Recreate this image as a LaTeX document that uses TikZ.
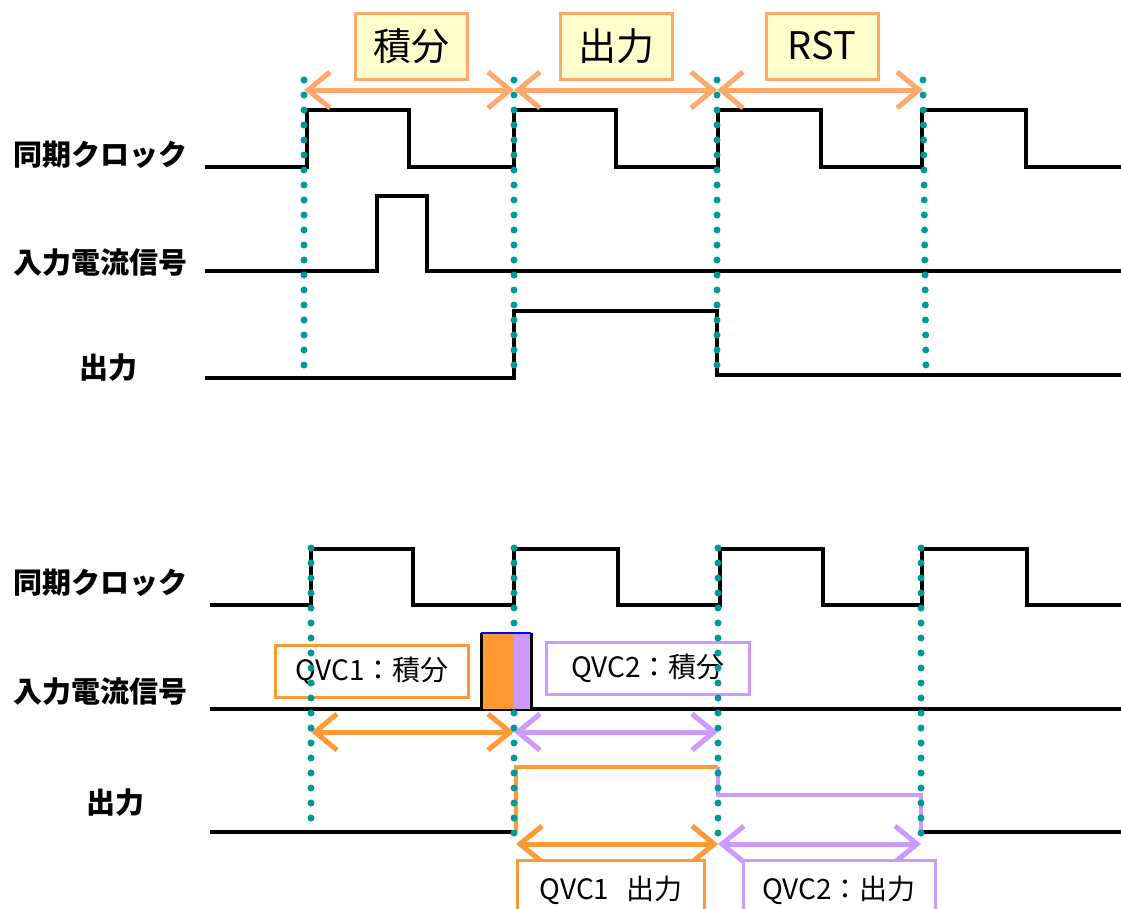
\documentclass[tikz,border=0pt]{standalone}
\usepackage{fontspec}
\setmainfont{Noto Sans CJK JP}
\usetikzlibrary{arrows.meta}
\definecolor{dotc}{HTML}{009999}
\definecolor{lorange}{HTML}{FFA86B}
\definecolor{orng}{HTML}{FF9933}
\definecolor{purp}{HTML}{CC99FF}
\definecolor{lyellow}{HTML}{FFFFCC}
\tikzset{
  wave/.style={line width=3.8pt, line join=miter},
  dotline/.style={dotc, line width=7pt, line cap=round, dash pattern=on 0pt off 15pt},
  barb/.tip={Straight Barb[length=22pt,width=36pt,line width=5pt]},
  dblarr/.style={line width=5pt, barb-barb},
  topbox/.style={draw=lorange, fill=lyellow, line width=3pt, minimum width=112pt, minimum height=66pt, inner sep=0pt, font=\fontsize{38}{40}\selectfont},
  qbox/.style={fill=white, line width=3pt, minimum height=52pt, inner sep=0pt, font=\fontsize{28}{30}\selectfont},
  sig/.style={font=\bfseries\fontsize{29}{31}\selectfont, inner sep=0pt}
}
\begin{document}
\begin{tikzpicture}[x=1pt,y=-1pt]
\useasboundingbox (0,0) rectangle (1121,908);
\clip (0,0) rectangle (1121,908);

% ---------- top part ----------
\node[sig] (l1) at (100,155) {同期クロック};
\node[sig] (l2) at (100,263) {入力電流信号};
\node[sig] (l3) at (108,368) {出力};

\draw[wave] (205,167) -- (307,167) -- (307,110) -- (409,110) -- (409,167) -- (514,167) -- (514,110) -- (616,110) -- (616,167) -- (718,167) -- (718,110) -- (821,110) -- (821,167) -- (922,167) -- (922,110) -- (1026,110) -- (1026,167) -- (1121,167);
\draw[wave] (205,271) -- (377,271) -- (377,196) -- (427,196) -- (427,271) -- (1121,271);
\draw[wave] (205,378) -- (514,378) -- (514,311) -- (717,311) -- (717,375) -- (1121,375);

\coordinate (t1) at (304,90);
\coordinate (t2) at (514,90);
\coordinate (t3) at (717,90);
\coordinate (t4) at (923,90);
\draw[dblarr, lorange] (t1) -- (t2);
\draw[dblarr, lorange] (t2) -- (t3);
\draw[dblarr, lorange] (t3) -- (t4);

\node[topbox] (b1) at (411,46) {積分};
\node[topbox] (b2) at (616,46) {出力};
\node[topbox] (b3) at (822,46) {RST};

\coordinate (d1b) at (304,375);
\coordinate (d2b) at (514,375);
\coordinate (d3b) at (717,375);
\coordinate (d4b) at (926,372);
\draw[dotline] (304,80) -- (d1b);
\draw[dotline] (514,80) -- (d2b);
\draw[dotline] (717,80) -- (d3b);
\draw[dotline] (923,80) -- (d4b);

% ---------- bottom part ----------
\node[sig] (m1) at (100,583) {同期クロック};
\node[sig] (m2) at (100,692) {入力電流信号};
\node[sig] (m3) at (115,803) {出力};

\draw[wave] (210,605) -- (311,605) -- (311,549) -- (413,549) -- (413,605) -- (514,605) -- (514,549) -- (618,549) -- (618,605) -- (720,605) -- (720,549) -- (823,549) -- (823,605) -- (922,605) -- (922,549) -- (1027,549) -- (1027,605) -- (1121,605);
\draw[wave] (210,709) -- (1121,709);
\draw[wave] (210,832) -- (516,832);
\draw[wave] (921,832) -- (1121,832);
\draw[orng, line width=3.8pt] (516,832) -- (516,767) -- (718,767);
\draw[purp, line width=3.8pt] (718,767) -- (718,795) -- (921,795) -- (921,832);

\node[qbox, draw=orng, minimum width=193pt] (q1) at (372,671) {QVC1：積分};
\node[qbox, draw=purp, minimum width=203pt] (q2) at (648,668) {QVC2：積分};

\coordinate (u1) at (311,732);
\coordinate (u2) at (514,732);
\coordinate (u3) at (718,732);
\draw[dblarr, orng] (u1) -- (u2);
\draw[dblarr, purp] (u2) -- (u3);

\coordinate (w1) at (516,844);
\coordinate (w2) at (718,844);
\coordinate (w3) at (921,844);
\draw[dblarr, orng] (w1) -- (w2);
\draw[dblarr, purp] (w2) -- (w3);

\node[qbox, draw=orng, minimum width=187pt, minimum height=60pt, anchor=north] (q3) at (611,859) {QVC1\hspace{0.6em}出力};
\node[qbox, draw=purp, minimum width=192pt, minimum height=60pt, anchor=north] (q4) at (839,859) {QVC2：出力};

\draw[dotline] (311,548) -- (311,828);
\draw[dotline] (514,548) -- (514,836);
\draw[dotline] (718,548) -- (718,840);
\draw[dotline] (921,548) -- (921,838);

% input block
\fill[orng] (481,633) rectangle (514,709);
\fill[purp] (514,633) rectangle (531,709);
\draw[line width=3pt] (481,709) -- (481,633);
\draw[line width=3pt] (531,709) -- (531,633);
\draw[blue, line width=2.5pt] (481,633) -- (531,633);
\end{tikzpicture}
\end{document}
